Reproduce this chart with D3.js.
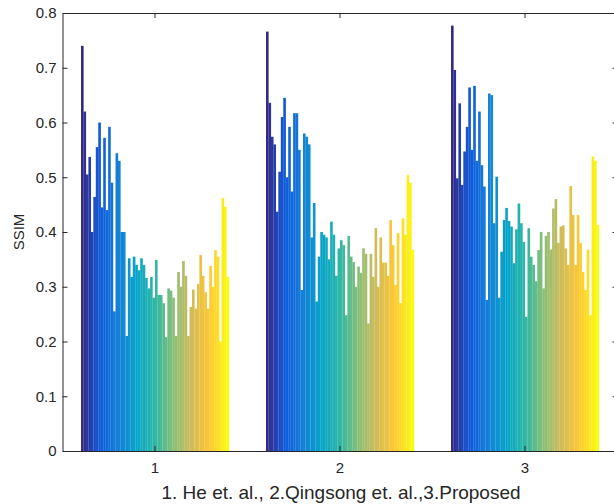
<!DOCTYPE html>
<html>
<head>
<meta charset="utf-8">
<script src="https://cdn.jsdelivr.net/npm/d3@7"></script>
<style>
  html, body { margin: 0; padding: 0; background: #fff; }
  svg { display: block; font-family: "Liberation Sans", Arial, Helvetica, sans-serif; }
</style>
</head>
<body>
<svg id="chart" width="614" height="504"></svg>
<script>
// Methods compared (x groups)
const methods = ["1", "2", "3"];

// SSIM per test image, one array per method (60 images each)
const ssimHe = [0.74, 0.62, 0.505, 0.537, 0.40, 0.464, 0.555, 0.60, 0.445, 0.572,
  0.44, 0.592, 0.49, 0.255, 0.544, 0.53, 0.40, 0.40, 0.21, 0.352,
  0.318, 0.355, 0.34, 0.33, 0.352, 0.34, 0.316, 0.297, 0.318, 0.28,
  0.349, 0.285, 0.285, 0.27, 0.208, 0.297, 0.293, 0.28, 0.21, 0.327,
  0.30, 0.347, 0.32, 0.21, 0.263, 0.295, 0.26, 0.305, 0.358, 0.32,
  0.29, 0.26, 0.338, 0.30, 0.367, 0.355, 0.20, 0.462, 0.446, 0.318];

const ssimQingsong = [0.766, 0.636, 0.574, 0.56, 0.437, 0.51, 0.61, 0.645, 0.50, 0.592,
  0.474, 0.617, 0.617, 0.55, 0.294, 0.58, 0.574, 0.56, 0.39, 0.453,
  0.273, 0.355, 0.40, 0.395, 0.39, 0.35, 0.419, 0.395, 0.32, 0.37,
  0.385, 0.376, 0.248, 0.393, 0.355, 0.345, 0.30, 0.337, 0.325, 0.37,
  0.36, 0.233, 0.36, 0.318, 0.407, 0.30, 0.39, 0.344, 0.344, 0.32,
  0.422, 0.376, 0.303, 0.398, 0.27, 0.425, 0.395, 0.504, 0.49, 0.367];

const ssimProposed = [0.777, 0.696, 0.498, 0.635, 0.486, 0.547, 0.592, 0.664, 0.55, 0.667,
  0.53, 0.62, 0.522, 0.483, 0.276, 0.653, 0.65, 0.416, 0.501, 0.28,
  0.364, 0.422, 0.444, 0.42, 0.41, 0.343, 0.405, 0.452, 0.416, 0.382,
  0.245, 0.407, 0.355, 0.34, 0.31, 0.367, 0.40, 0.297, 0.393, 0.40,
  0.368, 0.443, 0.46, 0.38, 0.41, 0.412, 0.37, 0.34, 0.484, 0.431,
  0.34, 0.431, 0.38, 0.327, 0.294, 0.368, 0.248, 0.538, 0.53, 0.413];

// Y axis ticks and their labels
const yTicks = [0, 0.1, 0.2, 0.3, 0.4, 0.5, 0.6, 0.7, 0.8];
const yTickLabels = ["0", "0.1", "0.2", "0.3", "0.4", "0.5", "0.6", "0.7", "0.8"];

const xTitle = "1. He et. al., 2.Qingsong et. al.,3.Proposed";
const yTitle = "SSIM";

const groups = [ssimHe, ssimQingsong, ssimProposed];
const nImages = ssimHe.length;

// Parula-like colour map
const parulaStops = ["#352a87", "#0f5cdd", "#1481d6", "#06a4ca", "#2eb7a4",
                     "#87bf77", "#d1bb59", "#fec832", "#f9fb0e"];
const parula = d3.scaleLinear()
  .domain(d3.range(parulaStops.length).map(i => i / (parulaStops.length - 1)))
  .range(parulaStops)
  .interpolate(d3.interpolateRgb);

const svg = d3.select("#chart");
const plot = { left: 62.5, right: 617.5, top: 13, bottom: 451 };
const axisColor = "#262626";
const tickFont = "15px";

const x0 = d3.scaleBand().domain(methods).range([plot.left, plot.right])
  .paddingInner(0.2).paddingOuter(0.1);
const x1 = d3.scaleBand().domain(d3.range(nImages)).range([0, x0.bandwidth()]).padding(0);
const y = d3.scaleLinear().domain([0, 0.8]).range([plot.bottom, plot.top]);

// Bars
const gBars = svg.append("g");
groups.forEach((vals, gi) => {
  gBars.append("g")
    .attr("transform", `translate(${x0(methods[gi])},0)`)
    .selectAll("rect")
    .data(vals)
    .join("rect")
      .attr("x", (d, i) => x1(i))
      .attr("width", x1.bandwidth() + 0.15)
      .attr("y", d => y(d))
      .attr("height", d => y(0) - y(d))
      .attr("fill", (d, i) => parula(i / (nImages - 1)));
});

// Axes (box with inward ticks)
function styleAxis(g) {
  g.selectAll("path.domain").attr("stroke", axisColor).attr("stroke-width", 1);
  g.selectAll(".tick line").attr("stroke", axisColor).attr("stroke-width", 1);
  g.selectAll(".tick text").attr("fill", axisColor)
    .style("font-size", tickFont).style("font-family", "'Liberation Sans', Arial, sans-serif");
}

svg.append("g").attr("transform", `translate(${plot.left},0)`)
  .call(d3.axisLeft(y).tickValues(yTicks).tickFormat((d, i) => yTickLabels[i])
    .tickSize(-5).tickSizeOuter(0).tickPadding(6))
  .call(styleAxis);

svg.append("g").attr("transform", `translate(${plot.right},0)`)
  .call(d3.axisRight(y).tickValues(yTicks).tickFormat("").tickSize(-5).tickSizeOuter(0))
  .call(styleAxis);

svg.append("g").attr("transform", `translate(0,${plot.bottom})`)
  .call(d3.axisBottom(x0).tickSize(-5).tickSizeOuter(0).tickPadding(11))
  .call(styleAxis);

svg.append("g").attr("transform", `translate(0,${plot.top})`)
  .call(d3.axisTop(x0).tickFormat("").tickSize(-5).tickSizeOuter(0))
  .call(styleAxis);

// Axis titles
svg.append("text")
  .attr("x", 341)
  .attr("y", 499)
  .attr("text-anchor", "middle")
  .attr("fill", axisColor)
  .style("font-size", "19px")
  .text(xTitle);

svg.append("text")
  .attr("transform", `translate(24,${(plot.top + plot.bottom) / 2}) rotate(-90)`)
  .attr("text-anchor", "middle")
  .attr("fill", axisColor)
  .style("font-size", "15px")
  .text(yTitle);
</script>
</body>
</html>
